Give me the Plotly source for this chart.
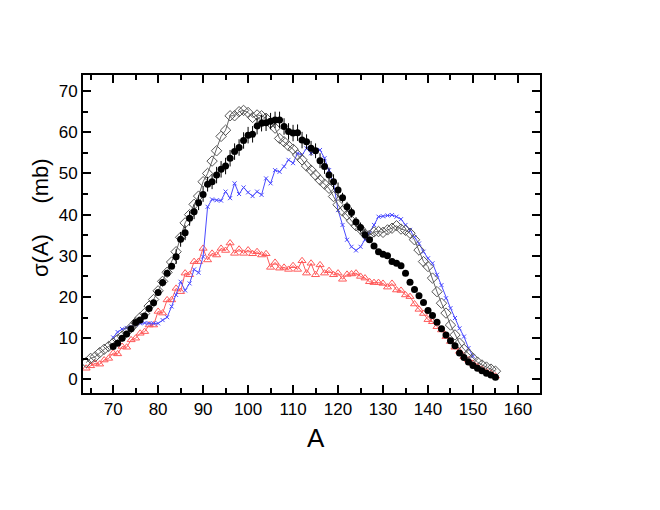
import plotly.graph_objects as go

# ---------------- data ----------------
A_black = list(range(70, 156))
black_vals = [8.0, 8.8, 10.0, 11.0, 12.3, 13.8, 14.4, 15.4, 17.2, 18.6,
              21.1, 23.5, 25.8, 27.5, 29.8, 34.0, 35.6, 39.1, 40.7, 42.9,
              44.9, 47.4, 48.0, 49.6, 51.0, 51.8, 53.7, 55.3, 56.3, 58.0,
              59.3, 59.5, 61.5, 62.2, 62.3, 62.7, 63.0, 63.0, 61.4, 60.2,
              59.8, 59.9, 58.1, 57.7, 56.1, 55.5, 53.1, 51.7, 49.6, 48.0,
              46.0, 44.1, 41.9, 40.5, 38.2, 36.9, 35.1, 33.9, 32.4, 31.0,
              30.4, 30.0, 28.6, 28.2, 27.6, 25.8, 23.6, 21.8, 20.3, 18.7,
              16.7, 15.5, 13.9, 12.3, 10.8, 9.4, 8.2, 6.4, 5.3, 4.2,
              3.4, 2.7, 2.1, 1.5, 1.1, 0.5]
black_err = ([0.5] * 14 + [1.8] * 9 + [2.0] * 20 + [1.8] * 8 + [1.2] * 6
             + [0.5] * 29)

A_diam = list(range(64, 156))
diam_vals = [4.1, 5.1, 5.5, 6.5, 7.3, 8.0, 8.8, 9.7, 10.5, 11.5,
             12.6, 13.8, 15.0, 16.0, 17.8, 19.4, 21.5, 23.8, 26.0, 28.5,
             31.0, 34.5, 38.0, 40.0, 42.5, 44.5, 48.0, 50.0, 53.0, 55.5,
             59.0, 60.5, 64.0, 64.0, 65.0, 65.3, 64.8, 63.6, 64.2, 64.0,
             63.4, 62.2, 61.0, 58.5, 57.7, 56.7, 55.9, 54.5, 53.3, 51.8,
             50.8, 49.6, 48.4, 47.4, 46.4, 44.4, 42.4, 40.9, 39.9, 38.5,
             37.3, 36.5, 35.3, 35.0, 35.8, 35.9, 35.7, 36.3, 36.7, 37.3,
             36.5, 36.2, 35.5, 33.9, 31.4, 28.6, 27.4, 24.6, 21.3, 18.5,
             16.1, 13.2, 10.8, 8.8, 7.3, 6.2, 5.1, 4.2, 3.5, 3.0,
             2.5, 2.0]

A_blue = list(range(70, 151))
blue_vals = [10.2, 11.5, 12.2, 12.5, 12.8, 13.3, 13.6, 13.7, 13.6, 13.6,
             13.6, 14.4, 15.1, 17.7, 20.5, 23.7, 21.6, 23.3, 26.7, 25.9,
             29.8, 41.9, 43.7, 43.5, 43.4, 45.6, 44.0, 47.6, 45.0, 46.6,
             45.4, 44.5, 45.6, 44.8, 48.8, 47.6, 50.8, 50.4, 51.7, 53.3,
             52.5, 54.9, 54.5, 56.1, 54.9, 55.7, 55.7, 53.7, 50.8, 47.6,
             41.1, 37.5, 33.9, 32.2, 31.3, 32.2, 33.9, 35.5, 37.5, 39.5,
             39.6, 39.8, 39.9, 39.5, 38.9, 37.5, 36.3, 34.5, 33.0, 31.0,
             29.4, 28.2, 25.4, 22.9, 19.7, 17.3, 14.9, 12.4, 10.4, 7.6,
             5.6]

A_red = list(range(64, 156))
red_vals = [2.7, 3.3, 3.9, 3.7, 4.7, 5.1, 6.4, 6.2, 8.0, 7.8,
            9.6, 10.0, 11.2, 11.6, 13.2, 13.2, 16.5, 16.1, 19.3, 19.3,
            22.1, 21.3, 25.8, 25.4, 28.6, 28.6, 31.8, 29.0, 30.6, 30.2,
            31.8, 31.3, 33.1, 30.6, 31.6, 30.6, 31.4, 30.5, 31.0, 30.2,
            30.5, 27.2, 28.4, 27.0, 27.2, 26.7, 27.6, 26.7, 28.8, 25.8,
            28.2, 25.4, 27.8, 25.8, 26.4, 25.4, 25.8, 24.3, 25.5, 25.6,
            25.8, 25.0, 24.6, 23.7, 23.5, 23.5, 23.3, 22.4, 23.3, 21.7,
            21.6, 20.5, 20.1, 18.3, 17.0, 16.0, 14.5, 14.0, 12.8, 12.0,
            10.4, 9.2, 7.8, 6.8, 5.5, 4.7, 3.9, 3.1, 2.5, 1.9,
            1.5, 0.8]

x_tickvals = [70, 80, 90, 100, 110, 120, 130, 140, 150, 160]
y_tickvals = [0, 10, 20, 30, 40, 50, 60, 70]

# ---------------- figure ----------------
fig = go.Figure()

fig.add_trace(go.Scatter(
    x=A_red, y=red_vals, mode="lines+markers",
    line=dict(color="#ff5a5a", width=1),
    marker=dict(symbol="triangle-up-open", size=7, color="#ff5a5a",
                line=dict(width=1)),
    showlegend=False))

fig.add_trace(go.Scatter(
    x=A_blue, y=blue_vals, mode="lines+markers",
    line=dict(color="#4a4aff", width=1),
    marker=dict(symbol="x-thin", size=4, color="#4a4aff",
                line=dict(width=1, color="#4a4aff")),
    showlegend=False))

fig.add_trace(go.Scatter(
    x=A_diam, y=diam_vals, mode="lines+markers",
    line=dict(color="#666666", width=1),
    marker=dict(symbol="diamond-open", size=8, color="#555555",
                line=dict(width=1)),
    showlegend=False))

fig.add_trace(go.Scatter(
    x=A_black, y=black_vals, mode="markers",
    marker=dict(symbol="circle", size=7, color="black"),
    error_y=dict(type="data", array=black_err, visible=True,
                 thickness=1, width=0, color="black"),
    showlegend=False))

tickfont = dict(family="Liberation Sans, Arial, sans-serif", size=17,
                color="black")

fig.update_xaxes(
    range=[63.3, 164.9], tickmode="array", tickvals=x_tickvals,
    ticks="inside", ticklen=8, tickwidth=2, tickcolor="black",
    showline=True, linecolor="black", linewidth=2, mirror="allticks",
    showgrid=False, zeroline=False, tickfont=tickfont,
    minor=dict(ticks="inside", ticklen=5, tickwidth=1.5, dtick=5,
               tick0=0, tickcolor="black", showgrid=False))

fig.update_yaxes(
    range=[-3.3, 73.9], tickmode="array", tickvals=y_tickvals,
    ticks="inside", ticklen=8, tickwidth=2, tickcolor="black",
    showline=True, linecolor="black", linewidth=2, mirror="allticks",
    showgrid=False, zeroline=False, tickfont=tickfont,
    minor=dict(ticks="inside", ticklen=5, tickwidth=1.5, dtick=5,
               tick0=0, tickcolor="black", showgrid=False))

fig.add_annotation(text="A", xref="paper", yref="paper",
                   x=(316 - 83) / 457, y=-(438 - 393) / 318,
                   showarrow=False, yanchor="middle", xanchor="center",
                   font=dict(family="Liberation Sans, Arial, sans-serif",
                             size=26, color="black"))

fig.add_annotation(text="σ(A)     (mb)", xref="paper", yref="paper",
                   x=-(83 - 40) / 457, y=(393 - 218) / 318,
                   showarrow=False, textangle=-90,
                   xanchor="center", yanchor="middle",
                   font=dict(family="Liberation Sans, Arial, sans-serif",
                             size=22, color="black"))

# the page body adds an 8 px offset, so the figure is 8 px smaller
fig.update_layout(
    width=652, height=502,
    margin=dict(l=75, r=120, t=67, b=117),
    paper_bgcolor="white", plot_bgcolor="white",
    showlegend=False)

fig.write_html("out.html")
